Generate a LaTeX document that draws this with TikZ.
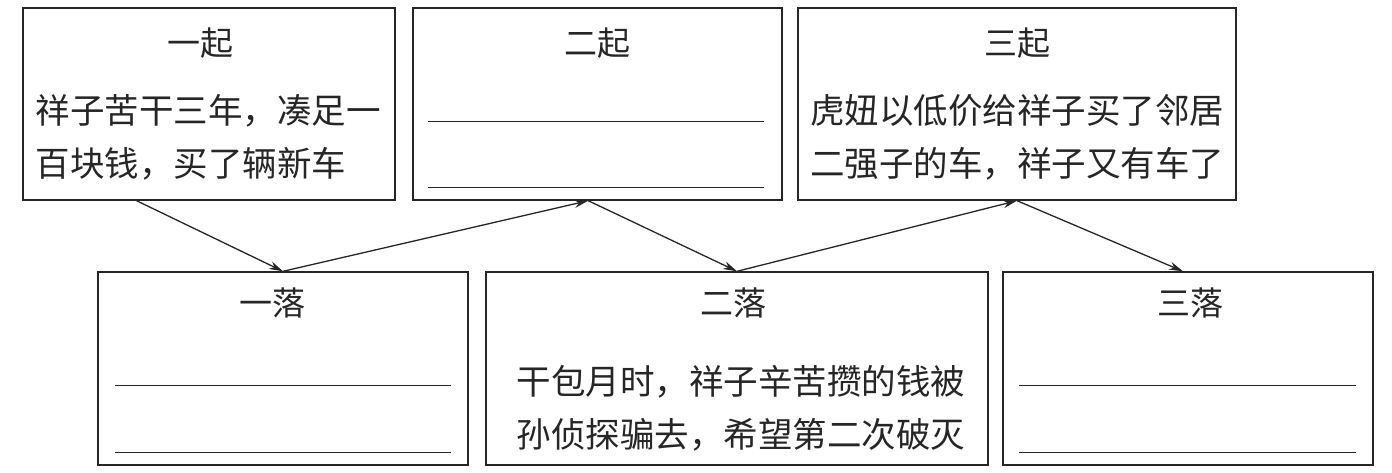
\documentclass[tikz,border=0pt]{standalone}
\usepackage{fontspec}
\newfontfamily\cjk{Noto Sans CJK SC}
\usepackage{tikz}
\usetikzlibrary{positioning}
\usetikzlibrary{calc}
\usetikzlibrary{arrows.meta}

\tikzset{
    panel/.style={draw=black!85, line width=1.4pt, minimum height=192pt, inner sep=0pt},
    head/.style={font=\cjk\fontsize{33}{33}\selectfont, text=black!85, inner sep=0pt},
    body/.style={font=\cjk\fontsize{34.5}{53}\selectfont, text=black!85, align=left, inner sep=0pt},
    blank/.style={draw=black!85, line width=1.3pt},
    flow/.style={draw=black!85, line width=1.3pt, -{Stealth[length=14pt,width=8pt]}},
}

\begin{document}
\begin{tikzpicture}[x=1pt,y=-1pt]
    \useasboundingbox (0,0) rectangle (1392,472);

    % top row: the three rises
    \node[panel, minimum width=372pt] (b1) at (209,104) {};
    \node[panel, minimum width=369pt] (b2) at (597.5,104) {};
    \node[panel, minimum width=438pt] (b3) at (1017,104) {};

    % bottom row: the three falls
    \node[panel, minimum width=370pt, minimum height=193pt] (b4) at (283,368.5) {};
    \node[panel, minimum width=502pt, minimum height=193pt] (b5) at (737,368.5) {};
    \node[panel, minimum width=370pt, minimum height=193pt] (b6) at (1188,368.5) {};

    \node[head] (t1) at (200,43) {一起};
    \node[head] (t2) at (597,43) {二起};
    \node[head] (t3) at (1017,43) {三起};
    \node[head] (t4) at (272,303) {一落};
    \node[head] (t5) at (733,303) {二落};
    \node[head] (t6) at (1190,303) {三落};

    \node[body] (x1) at (208,137) {祥子苦干三年，凑足一\\百块钱，买了辆新车};
    \node[body] (x3) at (1017,137) {虎妞以低价给祥子买了邻居\\二强子的车，祥子又有车了};
    \node[body] (x5) at (741,408) {干包月时，祥子辛苦攒的钱被\\孙侦探骗去，希望第二次破灭};

    % blanks to fill in
    \draw[blank] ($(b2.south west)+(16,-79)$) -- ($(b2.south east)+(-19,-79)$);
    \draw[blank] ($(b2.south west)+(16,-13)$) -- ($(b2.south east)+(-19,-13)$);
    \draw[blank] ($(b4.south west)+(18,-80)$) -- ($(b4.south east)+(-18,-80)$);
    \draw[blank] ($(b4.south west)+(18,-13)$) -- ($(b4.south east)+(-18,-13)$);
    \draw[blank] ($(b6.south west)+(17,-80)$) -- ($(b6.south east)+(-18,-80)$);
    \draw[blank] ($(b6.south west)+(17,-13)$) -- ($(b6.south east)+(-18,-13)$);

    \coordinate (s1) at ($(b1.south west)!0.306!(b1.south east)$);
    \coordinate (m2) at ($(b2.south west)!0.475!(b2.south east)$);

    \draw[flow] (s1) -- (b4.north);
    \draw[flow] (b4.north) -- (m2);
    \draw[flow] (m2) -- (b5.north);
    \draw[flow] (b5.north) -- (b3.south);
    \draw[flow] (b3.south) -- ([xshift=-5pt]b6.north);
\end{tikzpicture}
\end{document}
